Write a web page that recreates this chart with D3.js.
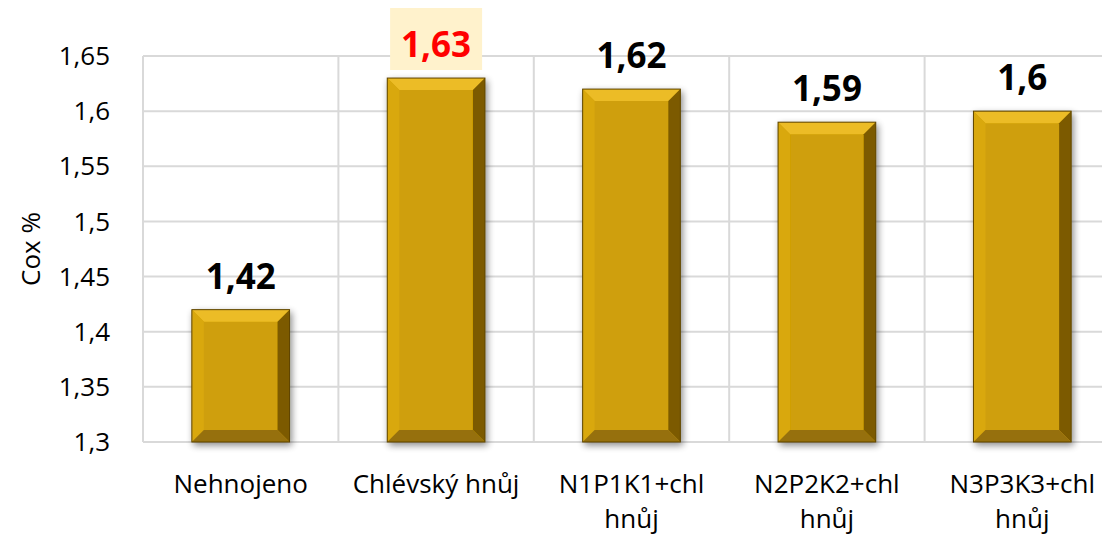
<!DOCTYPE html>
<html>
<head>
    <meta charset="utf-8"/>
    <title>Cox %</title>
    <style>
        body {
            margin: 0;
            background: #fff;
            overflow: hidden;
        }
        svg {
            display: block;
            font-family: 'Open Sans', 'Noto Sans', Arial, sans-serif;
        }
        .grid line {
            stroke: #d9d9d9;
            stroke-width: 2px;
        }
        .tick-label {
            font-size: 26px;
            fill: #000;
        }
        .cat-label {
            font-size: 26px;
            fill: #000;
        }
        .value-label {
            font-size: 35px;
            font-weight: bold;
        }
    </style>
    <script src="https://cdnjs.cloudflare.com/ajax/libs/d3/7.8.5/d3.min.js"></script>
</head>
<body>
<svg id="chart" width="1102" height="537"></svg>
<script>

const categories = [
    ['Nehnojeno'],
    ['Chlévský hnůj'],
    ['N1P1K1+chl', 'hnůj'],
    ['N2P2K2+chl', 'hnůj'],
    ['N3P3K3+chl', 'hnůj']
];
const values = [1.42, 1.63, 1.62, 1.59, 1.6];
const yTicks = [1.3, 1.35, 1.4, 1.45, 1.5, 1.55, 1.6, 1.65];
const highlight = 1; // index of max value, shown red on a light box

const svg = d3.select('#chart');

const plotLeft = 143, plotRight = 1120, plotTop = 56, plotBottom = 442;

const x = d3.scaleBand()
    .domain(d3.range(values.length))
    .range([plotLeft, plotRight])
    .paddingInner(0)
    .paddingOuter(0);

const y = d3.scaleLinear()
    .domain([1.3, 1.65])
    .range([plotBottom, plotTop]);

const fmt = v => String(v).replace('.', ',');

// shadow + bevel defs
const defs = svg.append('defs');
const shadow = defs.append('filter')
    .attr('id', 'shadow')
    .attr('x', '-20%').attr('y', '-10%')
    .attr('width', '140%').attr('height', '125%');
shadow.append('feGaussianBlur').attr('in', 'SourceAlpha').attr('stdDeviation', 3.5);
shadow.append('feOffset').attr('dx', 2).attr('dy', 3).attr('result', 'off');
shadow.append('feComponentTransfer').attr('result', 'blur')
    .append('feFuncA').attr('type', 'linear').attr('slope', 0.45);
const merge = shadow.append('feMerge');
merge.append('feMergeNode').attr('in', 'blur');
merge.append('feMergeNode').attr('in', 'SourceGraphic');

// horizontal gridlines
const grid = svg.append('g').attr('class', 'grid');
grid.selectAll('line.h')
    .data(yTicks)
    .enter().append('line')
    .attr('class', 'h')
    .attr('x1', plotLeft).attr('x2', plotRight)
    .attr('y1', d => y(d)).attr('y2', d => y(d));

// vertical category separators
grid.selectAll('line.v')
    .data(d3.range(values.length + 1))
    .enter().append('line')
    .attr('class', 'v')
    .attr('x1', i => plotLeft + i * x.step())
    .attr('x2', i => plotLeft + i * x.step())
    .attr('y1', plotTop).attr('y2', plotBottom);

// y tick labels
svg.append('g')
    .selectAll('text')
    .data(yTicks)
    .enter().append('text')
    .attr('class', 'tick-label')
    .attr('x', 110)
    .attr('y', d => y(d))
    .attr('dy', '0.35em')
    .attr('text-anchor', 'end')
    .text(fmt);

// y axis title
svg.append('text')
    .attr('class', 'tick-label')
    .attr('transform', `translate(40,${(plotTop + plotBottom) / 2}) rotate(-90)`)
    .attr('text-anchor', 'middle')
    .text('Cox %');

// bars
const bw = x.bandwidth() * 0.5;
const bev = 12;
const bars = svg.append('g')
    .selectAll('g')
    .data(values)
    .enter().append('g')
    .attr('filter', 'url(#shadow)');

bars.append('rect')
    .attr('x', (d, i) => x(i) + (x.bandwidth() - bw) / 2)
    .attr('y', d => y(d))
    .attr('width', bw)
    .attr('height', d => plotBottom - y(d))
    .attr('fill', '#cf9f07');

// bevel faces: top, left, right, bottom
function face(d, i, side) {
    const x0 = x(i) + (x.bandwidth() - bw) / 2, x1 = x0 + bw;
    const y0 = y(d), y1 = plotBottom;
    const b = Math.min(bev, (y1 - y0) / 2);
    const pts = {
        top: [[x0, y0], [x1, y0], [x1 - b, y0 + b], [x0 + b, y0 + b]],
        left: [[x0, y0], [x0 + b, y0 + b], [x0 + b, y1 - b], [x0, y1]],
        right: [[x1, y0], [x1, y1], [x1 - b, y1 - b], [x1 - b, y0 + b]],
        bottom: [[x0, y1], [x0 + b, y1 - b], [x1 - b, y1 - b], [x1, y1]]
    }[side];
    return 'M' + pts.map(p => p.join(',')).join('L') + 'Z';
}

const faces = [
    ['top', '#ecbc26'],
    ['left', '#d9a80e'],
    ['right', '#7c5a00'],
    ['bottom', '#96700a']
];
faces.forEach(([side, col]) => {
    bars.append('path')
        .attr('d', (d, i) => face(d, i, side))
        .attr('fill', col);
});

bars.append('rect')
    .attr('x', (d, i) => x(i) + (x.bandwidth() - bw) / 2)
    .attr('y', d => y(d))
    .attr('width', bw)
    .attr('height', d => plotBottom - y(d))
    .attr('fill', 'none')
    .attr('stroke', '#5e4500')
    .attr('stroke-width', 1);

// value labels
const labels = svg.append('g');
labels.selectAll('rect')
    .data(values.map((v, i) => ({ v, i })).filter(d => d.i === highlight))
    .enter().append('rect')
    .attr('x', d => x(d.i) + x.bandwidth() / 2 - 46)
    .attr('y', 8)
    .attr('width', 92)
    .attr('height', 62)
    .attr('fill', '#fff2cc');

labels.selectAll('text')
    .data(values)
    .enter().append('text')
    .attr('class', 'value-label')
    .attr('x', (d, i) => x(i) + x.bandwidth() / 2)
    .attr('y', d => y(d) - 21)
    .attr('text-anchor', 'middle')
    .attr('fill', (d, i) => i === highlight ? '#ff0000' : '#000')
    .text(fmt);

// category labels
const cats = svg.append('g')
    .selectAll('text')
    .data(categories)
    .enter().append('text')
    .attr('class', 'cat-label')
    .attr('text-anchor', 'middle')
    .attr('x', (d, i) => x(i) + x.bandwidth() / 2)
    .attr('y', 493);

cats.selectAll('tspan')
    .data(d => d)
    .enter().append('tspan')
    .attr('x', function () { return d3.select(this.parentNode).attr('x'); })
    .attr('dy', (d, j) => j === 0 ? 0 : 35)
    .text(d => d);

</script>
</body>
</html>
